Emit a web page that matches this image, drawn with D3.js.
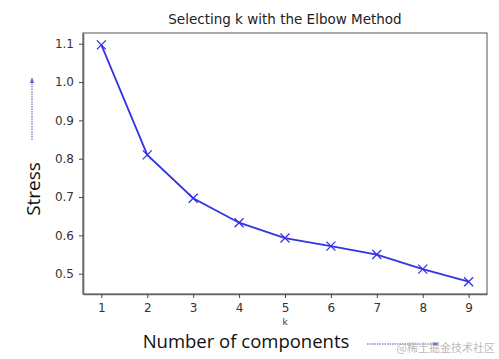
<!DOCTYPE html>
<html><head><meta charset="utf-8">
<script src="https://cdn.jsdelivr.net/npm/d3@7"></script>
<style>body{margin:0;background:#fff}svg{display:block}</style>
</head><body>
<script>
const ks = [1,2,3,4,5,6,7,8,9];
const stress = [1.097,0.810,0.697,0.633,0.593,0.572,0.550,0.512,0.479];
const yTicks = [0.5,0.6,0.7,0.8,0.9,1.0,1.1];
const title = "Selecting k with the Elbow Method";

const W=499,H=359;
const m={l:83,t:33,r:487,b:294};
const svg=d3.select("body").append("svg").attr("width",W).attr("height",H);
const x=d3.scaleLinear().domain([0.6,9.4]).range([m.l,m.r]);
const y=d3.scaleLinear().domain([0.447,1.128]).range([m.b,m.t]);

svg.append("rect").attr("x",m.l).attr("y",m.t).attr("width",m.r-m.l).attr("height",m.b-m.t)
  .attr("fill","none").attr("stroke","#555").attr("stroke-width",1);

const gx=svg.append("g").attr("transform",`translate(0,${m.b})`)
  .call(d3.axisBottom(x).tickValues(ks).tickFormat(d3.format("d")).tickSize(4).tickSizeOuter(0).tickPadding(5));
const gy=svg.append("g").attr("transform",`translate(${m.l},0)`)
  .call(d3.axisLeft(y).tickValues(yTicks).tickFormat(d3.format(".1f")).tickSize(4).tickSizeOuter(0).tickPadding(5));
[gx,gy].forEach(g=>{
  g.select(".domain").attr("stroke","#666").attr("stroke-width",1.6);
  g.selectAll(".tick line").attr("stroke","#444");
  g.selectAll(".tick text").attr("fill","#333").style("font-family","DejaVu Sans").style("font-size","12px");
});

const line=d3.line().x((d,i)=>x(ks[i])).y(d=>y(d));
svg.append("path").datum(stress).attr("d",line).attr("fill","none")
  .attr("stroke","#3333e6").attr("stroke-width",1.8);
const s=4.5;
svg.append("g").selectAll("path.mk").data(stress).join("path")
  .attr("d",(d,i)=>{const cx=x(ks[i]),cy=y(d);return `M${cx-s},${cy-s}L${cx+s},${cy+s}M${cx-s},${cy+s}L${cx+s},${cy-s}`;})
  .attr("stroke","#3333e6").attr("stroke-width",1.3);

svg.append("text").attr("x",(m.l+m.r)/2).attr("y",24).attr("text-anchor","middle")
  .style("font-family","DejaVu Sans").style("font-size","13.5px").attr("fill","#222").text(title);
svg.append("text").attr("x",x(5)).attr("y",325).attr("text-anchor","middle")
  .style("font-family","DejaVu Sans").style("font-size","9px").attr("fill","#333").text("k");
svg.append("text").attr("x",246).attr("y",348).attr("text-anchor","middle")
  .style("font-family","Open Sans").style("font-size","18.5px").attr("fill","#111").text("Number of components");
svg.append("text").attr("transform","translate(40,189) rotate(-90)").attr("text-anchor","middle")
  .style("font-family","Open Sans").style("font-size","19px").attr("fill","#111").text("Stress");

const defs=svg.append("defs");
defs.append("marker").attr("id","ah").attr("viewBox","0 0 10 10").attr("refX",9).attr("refY",5)
  .attr("markerWidth",6).attr("markerHeight",6).attr("orient","auto")
  .append("path").attr("d","M0,1L10,5L0,9Z").attr("fill","#6666cc");
svg.append("line").attr("x1",32).attr("y1",140).attr("x2",32).attr("y2",78)
  .attr("stroke","#5555aa").attr("stroke-width",1).attr("stroke-dasharray","1.5,1").attr("marker-end","url(#ah)");
svg.append("line").attr("x1",367).attr("y1",344).attr("x2",438).attr("y2",344)
  .attr("stroke","#5555aa").attr("stroke-width",1).attr("stroke-dasharray","1.5,1").attr("marker-end","url(#ah)");

svg.append("text").attr("x",495).attr("y",352).attr("text-anchor","end")
  .style("font-family","Noto Sans CJK SC").style("font-size","11px").attr("fill","#bbb").text("@稀土掘金技术社区");
</script>
</body></html>
